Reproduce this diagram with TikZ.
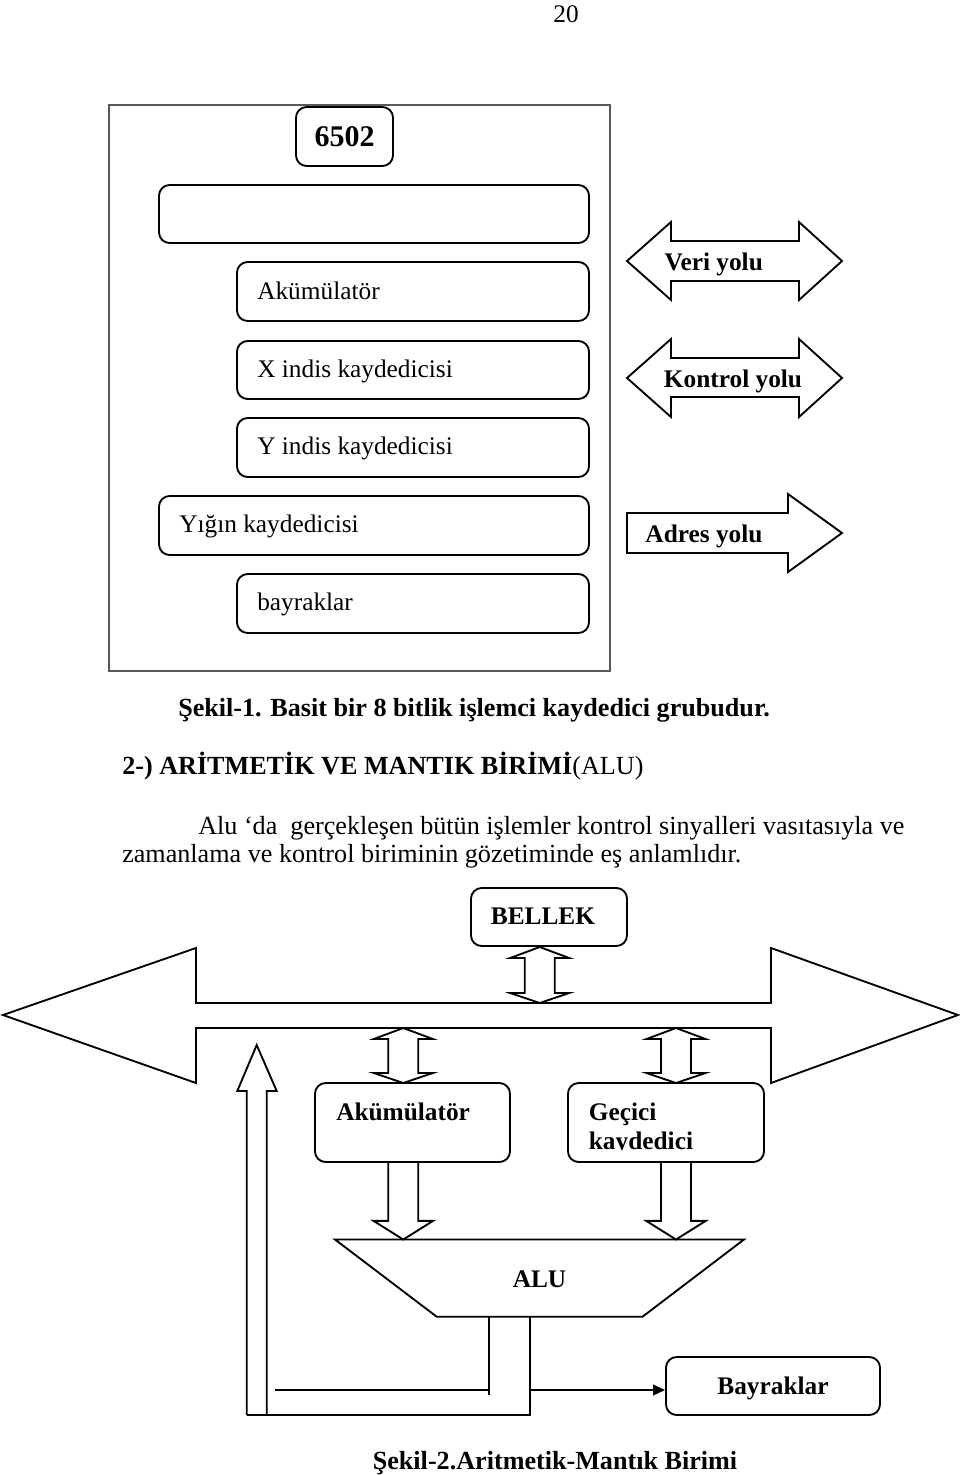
\documentclass[tikz,border=0pt]{standalone}
\usepackage{fontspec}
\setmainfont{Liberation Serif}
\usetikzlibrary{fit,arrows.meta}
\newcommand{\figfont}{\fontsize{19}{22}\selectfont}
\newcommand{\txtfont}{\fontsize{19.6}{22}\selectfont}
\newcommand{\numfont}{\fontsize{22.5}{26}\selectfont\bfseries}
% vertical double block arrow: centre x, top y, bottom y
\newcommand{\vdarrow}[3]{%
  \draw[fatarrow] (#1,#2) -- ({#1+29.5},{#2+11}) -- ({#1+15},{#2+11}) -- ({#1+15},{#3-10})
    -- ({#1+29.5},{#3-10}) -- (#1,#3) -- ({#1-29.5},{#3-10}) -- ({#1-15},{#3-10})
    -- ({#1-15},{#2+11}) -- ({#1-29.5},{#2+11}) -- cycle;}
% downward block arrow (open at top): centre x, top y, tip y
\newcommand{\vdown}[3]{%
  \draw[fatarrow] ({#1-15},#2) -- ({#1-15},{#3-18.6}) -- ({#1-29.7},{#3-18.6}) -- (#1,#3)
    -- ({#1+29.7},{#3-18.6}) -- ({#1+15},{#3-18.6}) -- ({#1+15},#2);}
\tikzset{
  rbox/.style={draw, line width=1.4pt, rounded corners=8pt, inner sep=0pt},
  lbl/.style={anchor=base west, inner sep=0pt, font=\figfont},
  blbl/.style={anchor=base, inner sep=0pt, font=\figfont\bfseries},
  bwlbl/.style={anchor=base west, inner sep=0pt, font=\figfont\bfseries},
  txt/.style={anchor=base west, inner sep=0pt, font=\txtfont},
  fatarrow/.style={draw, line width=1.4pt, line join=miter},
  thin/.style={draw, line width=1.4pt},
}
\begin{document}
\begin{tikzpicture}[x=0.75pt,y=-0.75pt]
\useasboundingbox (0,0) rectangle (960,1475);

% page number
\node[anchor=base, inner sep=0pt, font=\figfont] (pagenum) at (566,22) {20};

% ---------------- Figure 1 ----------------
\node[draw=black!65, line width=1.1pt, inner sep=0pt, fit={(109,105) (610,671)}] (frame) {};
\node[rbox, fit={(296,107) (393,166)}] (cpu) {};
\node[anchor=base, inner sep=0pt, font=\numfont] (cput) at (344.5,146) {6502};
\node[rbox, fit={(159,185) (589,243)}] (empty) {};
\node[rbox, fit={(237,262) (589,321)}] (acc) {};
\node[lbl] (acct) at (257,299) {Akümülatör};
\node[rbox, fit={(237,341) (589,399)}] (xreg) {};
\node[lbl] (xregt) at (257,377) {X indis kaydedicisi};
\node[rbox, fit={(237,418) (589,477)}] (yreg) {};
\node[lbl] (yregt) at (257,454.5) {Y indis kaydedicisi};
\node[rbox, fit={(159,496) (589,555)}] (sreg) {};
\node[lbl] (sregt) at (179,532.5) {Yığın kaydedicisi};
\node[rbox, fit={(237,574) (589,633)}] (freg) {};
\node[lbl] (fregt) at (257,610.5) {bayraklar};

% bus arrows
\draw[fatarrow] (627,261) -- (671,222) -- (671,241) -- (799,241) -- (799,222) -- (842,261)
  -- (799,300) -- (799,281) -- (671,281) -- (671,300) -- cycle;
\node[blbl] (veri) at (713.7,270) {Veri yolu};
\draw[fatarrow] (627,378) -- (671,339) -- (671,358) -- (799,358) -- (799,339) -- (842,378)
  -- (799,417) -- (799,397) -- (671,397) -- (671,417) -- cycle;
\node[blbl] (kontrol) at (733,387) {Kontrol yolu};
\draw[fatarrow] (627,513) -- (788,513) -- (788,494) -- (842,533) -- (788,572) -- (788,553)
  -- (627,553) -- cycle;
\node[blbl] (adres) at (704,542) {Adres yolu};

% ---------------- Text ----------------
\node[anchor=base, inner sep=0pt, font=\txtfont\bfseries] (cap1) at (474,716)
  {Şekil-1. Basit bir 8 bitlik işlemci kaydedici grubudur.};
\node[txt] (head) at (122,774) {\bfseries 2-) ARİTMETİK VE MANTIK BİRİMİ\mdseries(ALU)};
\node[txt] (body1) at (198,834) {Alu ‘da~ gerçekleşen bütün işlemler kontrol sinyalleri vasıtasıyla ve};
\node[txt] (body2) at (122,862) {zamanlama ve kontrol biriminin gözetiminde eş anlamlıdır.};

% ---------------- Figure 2 ----------------
\node[rbox, fit={(471,888) (627,946)}] (bellek) {};
\node[blbl] (bellekt) at (543,924) {BELLEK};

% main bus
\draw[fatarrow] (3,1015) -- (196,948) -- (196,1003) -- (771,1003) -- (771,948) -- (958,1015)
  -- (771,1083) -- (771,1028) -- (196,1028) -- (196,1083) -- cycle;

\vdarrow{539.7}{947}{1003}
\vdarrow{403.3}{1028}{1083}
\vdarrow{676}{1028}{1083}

\node[rbox, fit={(315,1083) (510,1162)}] (acc2) {};
\node[bwlbl] (acc2t) at (336,1120.7) {Akümülatör};
\node[rbox, fit={(568,1083) (764,1162)}] (tmp) {};
\begin{scope}
  \clip (560,1085) rectangle (770,1149.5);
  \node[bwlbl] (tmpt1) at (588.6,1120.7) {Geçici};
  \node[bwlbl] (tmpt2) at (588.6,1149.2) {kaydedici};
\end{scope}

\vdown{403.3}{1162}{1239.5}
\vdown{676}{1162}{1239.5}

% ALU
\draw[fatarrow] (335,1239.5) -- (744,1239.5) -- (642.5,1316.7) -- (436.7,1316.7) -- cycle;
\node[blbl] (alu) at (539.5,1287) {ALU};

% feedback path
\draw[fatarrow] (246.7,1415) -- (246.7,1091) -- (237.3,1091) -- (256.7,1045) -- (276.7,1091)
  -- (266.7,1091) -- (266.7,1415);
\draw[thin] (246.7,1415) -- (530,1415) -- (530,1316.7);
\draw[thin] (489.3,1316.7) -- (489.3,1395);
\draw[thin] (275,1390) -- (489.3,1390);

\node[rbox, fit={(666,1357) (880,1415)}] (bay) {};
\node[blbl] (bayt) at (773,1394) {Bayraklar};
\coordinate (pipeout) at (530,1390);
\draw[thin, -{Triangle[length=9pt,width=8pt]}] (pipeout) -- (bay.west |- pipeout);

\node[anchor=base, inner sep=0pt, font=\txtfont\bfseries] (cap2) at (555,1469)
  {Şekil-2.Aritmetik-Mantık Birimi};
\end{tikzpicture}
\end{document}
